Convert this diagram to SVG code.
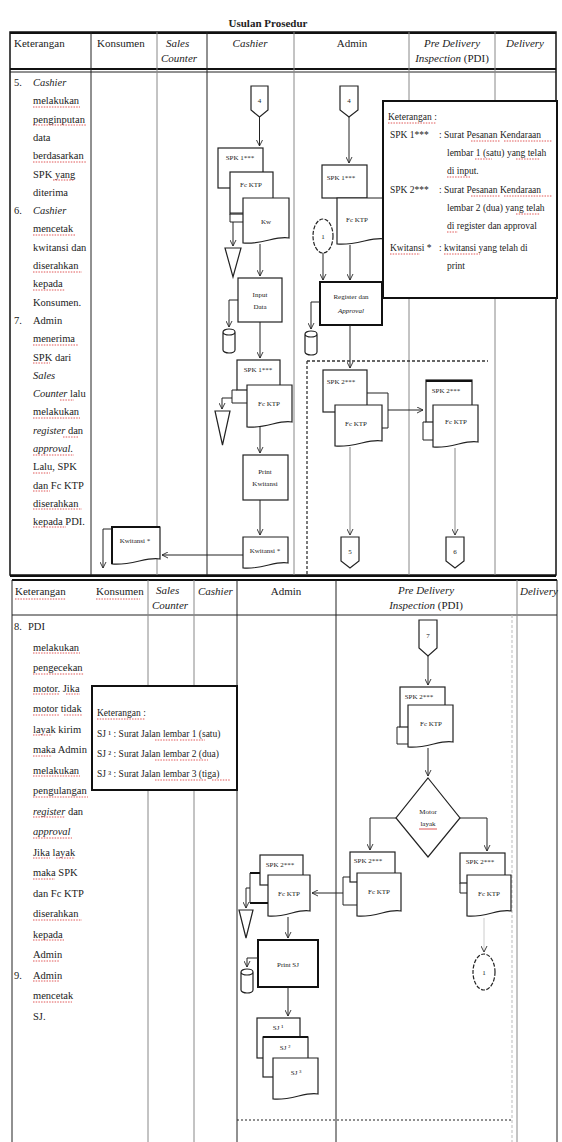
<svg xmlns="http://www.w3.org/2000/svg" width="562" height="1142" viewBox="0 0 562 1142">
<style>
text{font-family:"Liberation Serif","Times New Roman",serif;fill:#222}
.t{font-size:10.5px}
.h{font-size:11px}
.hi{font-size:11px;font-style:italic}
.s{font-size:7px;text-anchor:middle}
.k{font-size:9.5px}
.ln{stroke:#222;stroke-width:1;fill:none}
.gl{stroke:#888;stroke-width:1;fill:none}
.bd{stroke:#111;stroke-width:2;fill:none}
.sh{fill:#fff;stroke:#222;stroke-width:1.2}
.tk{fill:#fff;stroke:#111;stroke-width:2}
.ds{stroke:#333;stroke-width:1.3;stroke-dasharray:3 2;fill:none}
.sq{stroke:#d44;stroke-width:0.9;stroke-dasharray:1.5 1.2;fill:none}
</style>
<defs>
<marker id="a" viewBox="0 0 8 8" refX="7" refY="4" markerWidth="7" markerHeight="7" orient="auto"><path d="M0,0.5 L7,4 L0,7.5" fill="none" stroke="#222" stroke-width="1"/></marker>
<path id="cyl" d="M0,3 A6,3 0 0 1 12,3 V21 A6,3 0 0 1 0,21 Z M0,3 A6,3 0 0 0 12,3"/>
</defs>

<text x="268" y="27" class="h" font-weight="bold" text-anchor="middle">Usulan Prosedur</text>

<g id="table-top">
<rect x="10" y="32" width="546" height="543" fill="none" stroke="#111" stroke-width="1.5"/>
<line x1="10" y1="33" x2="556" y2="33" class="bd"/>
<line x1="10" y1="69" x2="556" y2="69" class="bd"/>
<line x1="10" y1="72" x2="556" y2="72" class="ln"/>
<line x1="91" y1="32" x2="91" y2="575" class="ln"/>
<line x1="157" y1="32" x2="157" y2="575" class="gl"/>
<line x1="207" y1="32" x2="207" y2="575" class="ln"/>
<line x1="294" y1="32" x2="294" y2="575" class="gl"/>
<line x1="409" y1="32" x2="409" y2="575" class="gl"/>
<line x1="495" y1="32" x2="495" y2="575" class="gl"/>
<text x="14" y="47" class="h">Keterangan</text>
<text x="97" y="47" class="h">Konsumen</text>
<text x="166" y="47" class="hi">Sales</text>
<text x="161" y="62" class="hi">Counter</text>
<text x="250" y="47" class="hi" text-anchor="middle">Cashier</text>
<text x="352" y="47" class="h" text-anchor="middle">Admin</text>
<text x="452" y="47" class="hi" text-anchor="middle">Pre Delivery</text>
<text x="452" y="62" class="h" text-anchor="middle"><tspan font-style="italic">Inspection</tspan> (PDI)</text>
<text x="525" y="47" class="hi" text-anchor="middle">Delivery</text>
</g>

<g id="ket-top">
<text class="t"><tspan x="14" y="86">5.</tspan><tspan x="33" y="86" font-style="italic">Cashier</tspan>
<tspan x="33" y="104.3">melakukan</tspan><tspan x="33" y="122.6">penginputan</tspan><tspan x="33" y="140.9">data</tspan><tspan x="33" y="159.2">berdasarkan</tspan><tspan x="33" y="177.5">SPK yang</tspan><tspan x="33" y="195.8">diterima</tspan>
<tspan x="14" y="214.1">6.</tspan><tspan x="33" y="214.1" font-style="italic">Cashier</tspan>
<tspan x="33" y="232.4">mencetak</tspan><tspan x="33" y="250.7">kwitansi dan</tspan><tspan x="33" y="269">diserahkan</tspan><tspan x="33" y="287.3">kepada</tspan><tspan x="33" y="305.6">Konsumen.</tspan>
<tspan x="14" y="323.9">7.</tspan><tspan x="33" y="323.9">Admin</tspan>
<tspan x="33" y="342.2">menerima</tspan><tspan x="33" y="360.5">SPK dari</tspan><tspan x="33" y="378.8" font-style="italic">Sales</tspan><tspan x="33" y="397.1"><tspan font-style="italic">Counter</tspan> lalu</tspan><tspan x="33" y="415.4">melakukan</tspan><tspan x="33" y="433.7"><tspan font-style="italic">register</tspan> dan</tspan><tspan x="33" y="452" font-style="italic">approval.</tspan><tspan x="33" y="470.3">Lalu, SPK</tspan><tspan x="33" y="488.6">dan Fc KTP</tspan><tspan x="33" y="506.9">diserahkan</tspan><tspan x="33" y="525.2">kepada PDI.</tspan>
</text>
<path class="sq" d="M33,107 H80 M33,125 H86 M33,162 H86 M53,180 H74 M33,235 H76 M33,272 H82 M33,290 H65 M33,345 H78 M33,363 H50 M60,400 H74 M33,418 H80 M63,437 H78 M33,455 H74 M33,473 H50 M33,491 H50 M33,509 H82 M33,527 H66"/>
</g>

<g id="cashier-4">
<polygon class="sh" points="251,86 268,86 268,110 259.5,117 251,110"/>
<text x="259.5" y="103" class="s">4</text>
</g>
<g id="cashier-docs1">
<rect class="sh" x="218" y="148" width="45" height="40"/>
<text x="240" y="160" class="s">SPK 1***</text>
<rect class="sh" x="230" y="172" width="43" height="42"/>
<text x="251" y="187" class="s">Fc KTP</text>
<path class="sh" d="M243,198 H289 V238 C277.5,235 261.4,245 243,243 Z"/>
<text x="266" y="224" class="s" fill="#a33">Kw</text>
</g>
<g id="cashier-arsip1"><polygon class="sh" points="225,248 241,248 233,277"/></g>
<g id="cashier-input">
<rect class="sh" x="238" y="278" width="44" height="44"/>
<text x="260" y="297" class="s">Input</text>
<text x="260" y="309" class="s">Data</text>
</g>
<g id="cashier-db"><use href="#cyl" x="223" y="329" class="sh"/></g>
<g id="cashier-docs2">
<rect class="sh" x="237" y="360" width="43" height="30"/>
<text x="258" y="372" class="s">SPK 1***</text>
<path class="sh" d="M247,385 H292 V422 C280.75,419 265,429 247,427 Z"/>
<text x="269" y="406" class="s">Fc KTP</text>
</g>
<g id="cashier-arsip2"><polygon class="sh" points="215,411 230,411 222.5,445"/></g>
<g id="cashier-print">
<rect class="sh" x="243" y="455" width="45" height="45"/>
<text x="265" y="474" class="s">Print</text>
<text x="265" y="486" class="s">Kwitansi</text>
</g>
<g id="cashier-kwitansi">
<path class="sh" d="M243,537 H288 V563 C276.75,560 261,570 243,568 Z"/>
<text x="265" y="553" class="s">Kwitansi *</text>
</g>
<g id="konsumen-kwitansi">
<path class="sh" d="M112,527 H160 V559 C148,556 131.2,566 112,564 Z"/>
<path class="bd" d="M112,564 V527 H160"/>
<text x="135" y="543" class="s">Kwitansi *</text>
</g>

<g id="admin-4">
<polygon class="sh" points="340,86 358,86 358,110 349,117 340,110"/>
<text x="349" y="103" class="s">4</text>
</g>
<g id="admin-docs1">
<rect class="sh" x="322" y="165" width="45" height="33"/>
<text x="341" y="180" class="s">SPK 1***</text>
<path class="sh" d="M337,198 H385 V239 C373,236 356.2,246 337,244 Z"/>
<text x="357" y="222" class="s">Fc KTP</text>
</g>
<g id="admin-circle1">
<ellipse class="sh" cx="323" cy="236" rx="10" ry="17" stroke-dasharray="4 1.5"/>
<text x="323" y="239" class="s">1</text>
</g>
<g id="admin-register">
<rect class="tk" x="320" y="282" width="62" height="43"/>
<text x="351" y="299" class="s">Register dan</text>
<text x="351" y="313" class="s" font-style="italic">Approval</text>
</g>
<g id="admin-db"><use href="#cyl" x="305" y="331" class="sh"/></g>
<g id="admin-docs2">
<rect class="sh" x="323" y="370" width="44" height="42"/>
<text x="341" y="384" class="s">SPK 2***</text>
<path class="sh" d="M335,405 H382 V441 C370.25,438 353.8,448 335,446 Z"/>
<text x="356" y="426" class="s">Fc KTP</text>
</g>
<g id="admin-5">
<polygon class="sh" points="341,537 359,537 359,561 350,568 341,561"/>
<text x="350" y="554" class="s">5</text>
</g>

<g id="pdi-docs">
<rect class="sh" x="426" y="380" width="46" height="42"/>
<line x1="426" y1="381" x2="472" y2="381" class="bd"/>
<text x="446" y="393" class="s">SPK 2***</text>
<path class="sh" d="M433,405 H478 V442 C466.75,439 451,449 433,447 Z"/>
<text x="456" y="424" class="s">Fc KTP</text>
</g>
<g id="pdi-6">
<polygon class="sh" points="446,537 464,537 464,561 455,568 446,561"/>
<text x="455" y="554" class="s">6</text>
</g>

<g id="legend-top">
<rect x="383" y="101" width="174" height="197" fill="#fff" stroke="#111" stroke-width="2"/>
<text class="k"><tspan x="388" y="120">Keterangan :</tspan>
<tspan x="390" y="138">SPK 1***</tspan><tspan x="439" y="138">: Surat Pesanan Kendaraan</tspan>
<tspan x="447" y="156">lembar 1 (satu) yang telah</tspan>
<tspan x="447" y="174">di input.</tspan>
<tspan x="390" y="193">SPK 2***</tspan><tspan x="439" y="193">: Surat Pesanan Kendaraan</tspan>
<tspan x="447" y="211">lembar 2 (dua) yang telah</tspan>
<tspan x="447" y="229">di register dan approval</tspan>
<tspan x="390" y="251">Kwitansi *</tspan><tspan x="439" y="251">: kwitansi yang telah di</tspan>
<tspan x="447" y="269">print</tspan></text>
<path class="sq" d="M388,123 H436 M471,141 H500 M504,141 H552 M475,159 H492 M516,159 H540 M447,177 H470 M471,196 H500 M504,196 H552 M516,214 H540 M447,232 H458 M390,254 H420 M444,254 H480"/>
</g>

<g id="connectors-top">
<line x1="259.5" y1="117" x2="259.5" y2="146" class="ln" marker-end="url(#a)"/>
<path class="ln" d="M230,214 V222 H243 M230,213 H243"/>
<line x1="233" y1="222" x2="233" y2="246" class="ln" marker-end="url(#a)"/>
<line x1="260" y1="244" x2="260" y2="276" class="ln" marker-end="url(#a)"/>
<path class="ln" d="M238,300 H229 V327" marker-end="url(#a)"/>
<line x1="260" y1="322" x2="260" y2="358" class="ln" marker-end="url(#a)"/>
<path class="ln" d="M237,390 H232 V403 H247"/>
<path class="ln" d="M232,398 H222 V409" marker-end="url(#a)"/>
<line x1="260" y1="426" x2="260" y2="453" class="ln" marker-end="url(#a)"/>
<line x1="260" y1="500" x2="260" y2="535" class="ln" marker-end="url(#a)"/>
<line x1="243" y1="555" x2="162" y2="555" class="ln" marker-end="url(#a)"/>
<path class="ln" d="M112,529 H103 V568" marker-end="url(#a)"/>
<line x1="349" y1="117" x2="349" y2="163" class="ln" marker-end="url(#a)"/>
<line x1="323" y1="253" x2="323" y2="280" class="ln" marker-end="url(#a)"/>
<line x1="350" y1="245" x2="350" y2="280" class="ln" marker-end="url(#a)"/>
<path class="ln" d="M320,302 H311 V329" marker-end="url(#a)"/>
<line x1="350" y1="325" x2="350" y2="368" class="ln" marker-end="url(#a)"/>
<path class="ds" d="M307,361 H488 M307,361 V575"/>
<path class="ln" d="M367,393 H388 V428 H382"/>
<line x1="388" y1="410" x2="423" y2="410" class="ln" marker-end="url(#a)"/>
<path class="ln" d="M426,422 H423 V440 H433"/>
<line x1="350" y1="447" x2="350" y2="535" class="gl" marker-end="url(#a)"/>
<line x1="455" y1="448" x2="455" y2="535" class="gl" marker-end="url(#a)"/>
</g>

<g id="table-bottom">
<line x1="10" y1="576" x2="556" y2="576" class="bd"/>
<line x1="12" y1="580" x2="557" y2="580" class="bd"/>
<line x1="12" y1="615" x2="557" y2="615" class="ln"/>
<line x1="12" y1="580" x2="12" y2="1142" class="ln"/>
<line x1="557" y1="580" x2="557" y2="1142" class="ln"/>
<line x1="148" y1="580" x2="148" y2="1142" class="gl"/>
<line x1="194" y1="580" x2="194" y2="1142" class="gl"/>
<line x1="237" y1="580" x2="237" y2="1142" class="ln" stroke-width="1.5"/>
<line x1="336" y1="580" x2="336" y2="1142" class="ln" stroke-width="1.5"/>
<line x1="512" y1="615" x2="512" y2="1142" stroke="#bbb" stroke-dasharray="3 2"/>
<line x1="517" y1="580" x2="517" y2="1142" class="gl"/>
<text x="15" y="595" class="h">Keterangan</text>
<text x="96" y="595" class="h">Konsumen</text>
<text x="156" y="594" class="hi">Sales</text>
<text x="152" y="609" class="hi">Counter</text>
<text x="198" y="595" class="hi">Cashier</text>
<text x="286" y="595" class="h" text-anchor="middle">Admin</text>
<text x="426" y="594" class="hi" text-anchor="middle">Pre Delivery</text>
<text x="426" y="609" class="h" text-anchor="middle"><tspan font-style="italic">Inspection</tspan> (PDI)</text>
<text x="520" y="595" class="hi" font-size="10px">Delivery</text>
<path class="sq" d="M15,599 H66 M96,599 H140"/>
</g>

<g id="ket-bottom">
<text class="t"><tspan x="14" y="630">8.</tspan><tspan x="28" y="630">PDI</tspan>
<tspan x="33" y="650.5">melakukan</tspan><tspan x="33" y="671">pengecekan</tspan><tspan x="33" y="691.5">motor. Jika</tspan><tspan x="33" y="712">motor tidak</tspan><tspan x="33" y="732.5">layak kirim</tspan><tspan x="33" y="753">maka Admin</tspan><tspan x="33" y="773.5">melakukan</tspan><tspan x="33" y="794">pengulangan</tspan><tspan x="33" y="814.5"><tspan font-style="italic">register</tspan> dan</tspan><tspan x="33" y="835" font-style="italic">approval</tspan><tspan x="33" y="855.5">Jika layak</tspan><tspan x="33" y="876">maka SPK</tspan><tspan x="33" y="896.5">dan Fc KTP</tspan><tspan x="33" y="917">diserahkan</tspan><tspan x="33" y="937.5">kepada</tspan><tspan x="33" y="958">Admin</tspan>
<tspan x="14" y="978.5">9.</tspan><tspan x="33" y="978.5">Admin</tspan>
<tspan x="33" y="999">mencetak</tspan><tspan x="33" y="1019.5">SJ.</tspan></text>
<path class="sq" d="M33,653 H80 M33,674 H84 M33,694 H60 M66,694 H80 M33,715 H60 M64,715 H82 M33,735 H52 M33,756 H52 M33,776 H80 M33,797 H88 M33,817 H65 M33,838 H72 M33,858 H50 M56,858 H75 M33,879 H55 M33,920 H82 M33,940 H64 M33,961 H60 M33,981 H60 M33,1002 H72"/>
</g>

<g id="legend-bottom">
<rect x="92" y="686" width="145" height="104" fill="#fff" stroke="#111" stroke-width="2"/>
<text class="k"><tspan x="97" y="716">Keterangan :</tspan>
<tspan x="97" y="737">SJ ¹ : Surat Jalan lembar 1 (satu)</tspan>
<tspan x="97" y="757">SJ ² : Surat Jalan lembar 2 (dua)</tspan>
<tspan x="97" y="777">SJ ³ : Surat Jalan lembar 3 (tiga)</tspan></text>
<path class="sq" d="M97,719 H145 M155,740 H178 M180,740 H205 M155,760 H178 M180,760 H208 M155,780 H178 M180,780 H207 M212,780 H230"/>
</g>

<g id="pdi-7">
<polygon class="sh" points="419,620 437,620 437,648 428,656 419,648"/>
<text x="428" y="638" class="s">7</text>
</g>
<g id="pdi-docs-b">
<rect class="sh" x="400" y="687" width="45" height="40"/>
<text x="419" y="699" class="s">SPK 2***</text>
<path class="sh" d="M408,705 H453 V742 C441.75,739 426,749 408,747 Z"/>
<text x="431" y="726" class="s">Fc KTP</text>
</g>
<g id="pdi-decision">
<polygon class="sh" points="428,778 460,818 428,857 396,818"/>
<text x="428" y="814" class="s">Motor</text>
<text x="428" y="826" class="s">layak</text>
<line x1="419" y1="829" x2="437" y2="829" stroke="#d44" stroke-width="0.9"/>
</g>
<g id="pdi-docs-left">
<rect class="sh" x="350" y="852" width="45" height="30"/>
<text x="368" y="863" class="s">SPK 2***</text>
<path class="sh" d="M357,873 H401 V911 C390,908 374.6,918 357,916 Z"/>
<text x="379" y="894" class="s">Fc KTP</text>
</g>
<g id="pdi-docs-right">
<rect class="sh" x="460" y="853" width="45" height="30"/>
<text x="480" y="864" class="s">SPK 2***</text>
<path class="sh" d="M467,875 H511 V911 C500,908 484.6,918 467,916 Z"/>
<text x="489" y="896" class="s">Fc KTP</text>
</g>
<g id="pdi-circle1">
<ellipse class="sh" cx="484" cy="972" rx="11" ry="18" stroke-dasharray="4 1.5"/>
<text x="484" y="975" class="s">1</text>
</g>
<g id="admin-docs-b">
<rect class="sh" x="260" y="855" width="43" height="30"/>
<text x="280" y="867" class="s">SPK 2***</text>
<path class="sh" d="M268,875 H310 V911 C299.5,908 284.8,918 268,916 Z"/>
<text x="289" y="896" class="s">Fc KTP</text>
</g>
<g id="admin-arsip-b"><polygon class="sh" points="239,910 253,910 246,938"/></g>
<g id="admin-printsj">
<rect class="tk" x="258" y="940" width="60" height="47"/>
<text x="288" y="967" class="s">Print SJ</text>
</g>
<g id="admin-db-b"><use href="#cyl" x="241" y="969" class="sh"/></g>
<g id="admin-sj">
<rect class="sh" x="257" y="1018" width="43" height="40"/>
<text x="278" y="1030" class="s">SJ ¹</text>
<rect class="sh" x="263" y="1037" width="45" height="40"/>
<line x1="263" y1="1037" x2="308" y2="1037" class="bd"/>
<text x="285" y="1050" class="s">SJ ²</text>
<path class="sh" d="M273,1058 H318 V1094 C306.75,1091 291,1101 273,1099 Z"/>
<text x="296" y="1075" class="s">SJ ³</text>
</g>

<g id="connectors-bottom">
<line x1="428" y1="656" x2="428" y2="685" class="ln" marker-end="url(#a)"/>
<path class="ln" d="M400,727 H397 V744 H408"/>
<line x1="428" y1="748" x2="428" y2="776" class="ln" marker-end="url(#a)"/>
<path class="ln" d="M396,818 H370 V850" marker-end="url(#a)"/>
<path class="ln" d="M460,818 H487 V851" marker-end="url(#a)"/>
<path class="ln" d="M350,877 H343 V905 H357"/>
<line x1="343" y1="893" x2="312" y2="893" class="ln" marker-end="url(#a)"/>
<path class="ln" d="M460,883 V893 H467"/>
<line x1="484" y1="918" x2="484" y2="952" stroke="#ccc" marker-end="url(#a)"/>
<path class="bd" d="M260,873 H250"/>
<path class="bd" d="M250,903 H268"/>
<path class="ln" d="M250,873 V903"/>
<path class="ln" d="M250,888 H246 V908" marker-end="url(#a)"/>
<line x1="288" y1="917" x2="288" y2="938" class="ln" marker-end="url(#a)"/>
<path class="ln" d="M258,958 H247 V967" marker-end="url(#a)"/>
<line x1="288" y1="987" x2="288" y2="1016" class="ln" marker-end="url(#a)"/>
<path class="ln" stroke-dasharray="2 2" stroke-width="1.3" d="M237,1120 H513"/>
</g>
</svg>
